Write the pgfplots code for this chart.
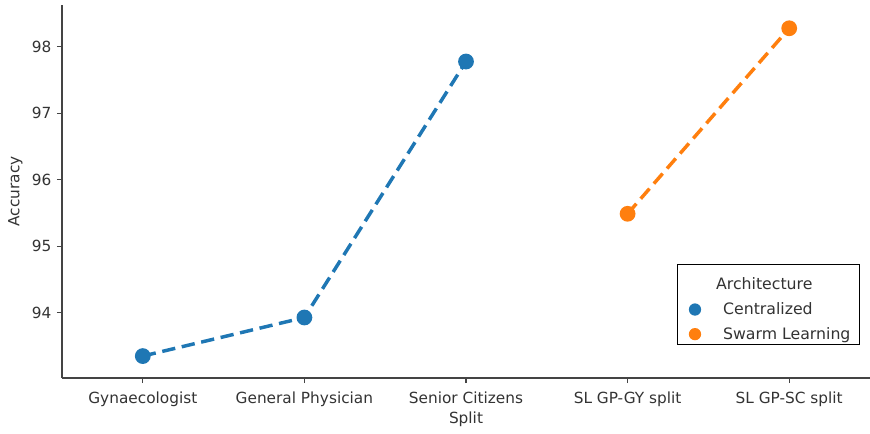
\documentclass[border=0pt]{standalone}
\usepackage{fontspec}
\setmainfont{DejaVu Sans}
\usepackage{pgfplots}
\pgfplotsset{compat=1.18}
\definecolor{tabblue}{HTML}{1F77B4}
\definecolor{taborange}{HTML}{FF7F0E}
\definecolor{spine}{HTML}{444444}
\definecolor{txt}{HTML}{333333}
\begin{document}
\begin{tikzpicture}
\begin{axis}[
  scale only axis,
  width=606pt, height=279.75pt,
  xmin=-0.5, xmax=4.5,
  ymin=93.02, ymax=98.63,
  axis x line*=bottom, axis y line*=left,
  axis line style={spine, line width=0.9pt, -},
  xtick={0,1,2,3,4},
  xticklabels={Gynaecologist,General Physician,Senior Citizens,SL GP-GY split,SL GP-SC split},
  ytick={94,95,96,97,98},
  tick align=outside,
  major tick length=3.75pt,
  tick style={spine, line width=0.9pt},
  tick label style={font=\fontsize{11.5}{13}\selectfont, text=txt},
  xticklabel style={inner sep=0pt, yshift=-6.5pt},
  yticklabel style={inner sep=0pt, xshift=-4pt},
  /pgf/number format/assume math mode=true,
  xlabel={Split}, ylabel={Accuracy},
  label style={font=\fontsize{11.5}{13}\selectfont, text=txt},
  xlabel style={at={(axis description cs:0.5,0)}, anchor=center, yshift=-31pt},
  ylabel style={at={(axis description cs:0,0.5)}, anchor=center, yshift=35pt},
  legend style={at={(rel axis cs:0.988,0.0885)}, anchor=south east,
    draw=black, line width=0.8pt, font=\fontsize{11.8}{13}\selectfont,
    text=txt, row sep=4pt, inner xsep=5pt, inner ysep=0.5pt,
    /tikz/column 1/.style={column sep=14.5pt}},
  legend cell align=left,
  clip=false,
]
\addlegendimage{empty legend}
\addlegendentry{\rule{0pt}{16.5pt}\hspace*{-26.1pt}\makebox[114pt][c]{Architecture}}
\addplot[tabblue, line width=2.6pt, dash pattern=on 10pt off 5pt,
  mark=*, mark size=4.6pt, mark options={solid},
  legend image code/.code={\path (0pt,0pt); \path[fill=tabblue, draw=none] (7pt,0pt) circle[radius=4.6pt];}] coordinates {
  (0,93.35) (1,93.93) (2,97.78)};
\addlegendentry{Centralized}
\addplot[taborange, line width=2.6pt, dash pattern=on 10pt off 5pt,
  mark=*, mark size=4.6pt, mark options={solid},
  legend image code/.code={\path (0pt,0pt); \path[fill=taborange, draw=none] (7pt,0pt) circle[radius=4.6pt];}] coordinates {
  (3,95.49) (4,98.28)};
\addlegendentry{Swarm Learning}
\end{axis}
\pgfresetboundingbox
\path (-46.5pt,-41.25pt) rectangle (606pt,283.5pt);
\end{tikzpicture}
\end{document}
